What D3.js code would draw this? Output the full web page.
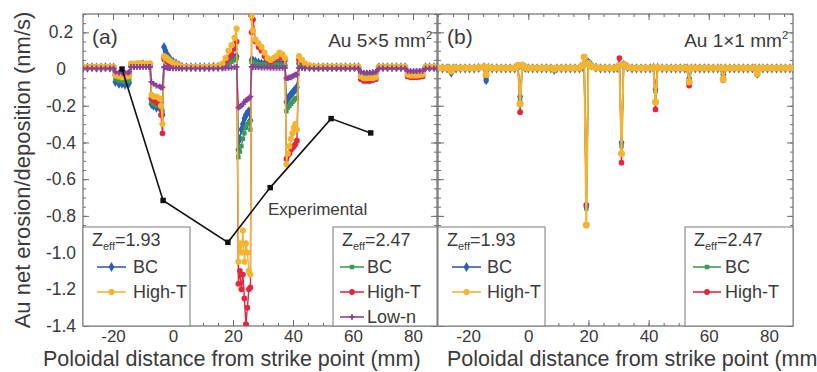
<!DOCTYPE html>
<html>
<head>
<meta charset="utf-8">
<script src="https://cdn.jsdelivr.net/npm/d3@7"></script>
<style>
  body { margin: 0; background: #fff; }
  text { font-family: "Liberation Sans", Arial, Helvetica, sans-serif; fill: #3a3a3a; }
</style>
</head>
<body>
<svg id="chart" width="817" height="372"></svg>
<script>
// ---------------- data ----------------
// Panel (a): Au 5x5 mm2, poloidal positions (mm)
const xGridA = [
  -30, -28.5, -27, -25.5, -24, -22.5, -21, -19.8,
  -19.2, -18, -17, -16, -15, -14.6,
  -14, -13, -12, -11, -10, -9, -8, -7.6,
  -7.2, -6.5, -5.5, -4.5, -4, -3.5,
  -3, -2.5, -2, -1.5, -1, 0, 1, 2,
  3, 4.5, 6, 7.5, 9, 10.5, 12, 13.5, 15, 16.5,
  17.5, 18.5, 19.5, 20.5, 21.2,
  21.8, 22.3, 22.8, 23.3, 23.8, 24.3, 24.8, 25.3, 25.8,
  26.2, 26.7, 27.5, 28.5, 29.5, 30.5, 31.5, 32.5, 33.5, 34.5, 35.5, 36.5, 37.3,
  37.8, 38.3, 38.8, 39.3, 39.8, 40.3, 40.8, 41.3,
  42, 43, 44, 45.5, 47, 48.5, 50, 51.5, 53, 54.5, 56, 57.5, 59, 60.5, 61.8,
  62.6, 63.6, 64.6, 65.6, 66.6, 67.6,
  68.6, 70, 71.5, 73, 74.5, 76, 77.4,
  78.2, 79.2, 80.2, 81.2, 82.2, 83.2,
  84.2, 85.5, 87, 88
];

// BC, Zeff = 1.93
const bc193A = [
  0.008, 0.008, 0.01, 0.008, 0.008, 0.01, 0.008, 0.008,
  -0.07, -0.08, -0.08, -0.085, -0.08, -0.075,
  0.02, 0.02, 0.022, 0.02, 0.025, 0.022, 0.02, 0.02,
  -0.19, -0.2, -0.21, -0.21, -0.22, -0.25,
  0.12, 0.1, 0.08, 0.065, 0.055, 0.04, 0.03, 0.02,
  0.012, 0.01, 0.01, 0.01, 0.01, 0.01, 0.01, 0.012, 0.012, 0.015,
  0.025, 0.035, 0.05, 0.06, 0.07,
  -0.44, -0.38, -0.33, -0.3, -0.27, -0.25, -0.24, -0.23, -0.28,
  0.05, 0.045, 0.04, 0.035, 0.03, 0.03, 0.028, 0.025, 0.025, 0.03, 0.03, 0.025, 0.02,
  -0.18, -0.16, -0.15, -0.14, -0.13, -0.12, -0.11, -0.1,
  0.03, 0.025, 0.015, 0.012, 0.01, 0.01, 0.01, 0.01, 0.01, 0.01, 0.01, 0.01, 0.01, 0.01, 0.01,
  -0.025, -0.03, -0.03, -0.03, -0.028, -0.025,
  0.01, 0.01, 0.01, 0.01, 0.01, 0.01, 0.01,
  -0.02, -0.02, -0.022, -0.02, -0.02, -0.018,
  0.01, 0.01, 0.01, 0.01
];

// High-T, Zeff = 1.93
const ht193A = [
  0.012, 0.012, 0.012, 0.014, 0.012, 0.012, 0.012, 0.012,
  -0.035, -0.04, -0.045, -0.04, -0.04, -0.035,
  0.03, 0.028, 0.03, 0.032, 0.03, 0.028, 0.03, 0.03,
  -0.14, -0.15, -0.15, -0.16, -0.2, -0.3,
  0.07, 0.065, 0.06, 0.05, 0.045, 0.035, 0.028, 0.02,
  0.014, 0.012, 0.012, 0.012, 0.012, 0.012, 0.014, 0.014, 0.016, 0.03,
  0.06, 0.1, 0.13, 0.17, 0.22,
  -1.05, -0.95, -1.0, -0.88, -1.05, -0.95, -1.0, -1.1, -1.12,
  0.29, 0.21, 0.16, 0.14, 0.12, 0.09, 0.06, 0.05, 0.06, 0.07, 0.09, 0.08, 0.06,
  -0.52, -0.46, -0.42, -0.38, -0.35, -0.32, -0.3, -0.33,
  0.07, 0.05, 0.03, 0.02, 0.015, 0.014, 0.014, 0.014, 0.014, 0.014, 0.014, 0.014, 0.014, 0.014, 0.014,
  -0.04, -0.05, -0.05, -0.048, -0.05, -0.045,
  0.014, 0.014, 0.014, 0.014, 0.014, 0.014, 0.014,
  -0.03, -0.035, -0.035, -0.035, -0.032, -0.03,
  0.014, 0.014, 0.014, 0.014
];

// BC, Zeff = 2.47
const bc247A = [
  0.006, 0.006, 0.006, 0.006, 0.006, 0.006, 0.006, 0.006,
  -0.055, -0.065, -0.065, -0.07, -0.065, -0.06,
  0.018, 0.018, 0.02, 0.018, 0.02, 0.02, 0.018, 0.018,
  -0.18, -0.19, -0.2, -0.2, -0.21, -0.23,
  0.05, 0.045, 0.04, 0.035, 0.03, 0.025, 0.02, 0.015,
  0.01, 0.01, 0.01, 0.01, 0.01, 0.01, 0.01, 0.01, 0.01, 0.012,
  0.02, 0.03, 0.04, 0.05, 0.06,
  -0.48, -0.45, -0.42, -0.38, -0.35, -0.32, -0.3, -0.29, -0.33,
  0.04, 0.035, 0.03, 0.028, 0.025, 0.025, 0.022, 0.02, 0.022, 0.025, 0.025, 0.022, 0.02,
  -0.23, -0.21, -0.2, -0.19, -0.18, -0.17, -0.16, -0.16,
  0.025, 0.02, 0.012, 0.01, 0.008, 0.008, 0.008, 0.008, 0.008, 0.008, 0.008, 0.008, 0.008, 0.008, 0.008,
  -0.03, -0.035, -0.035, -0.035, -0.032, -0.03,
  0.008, 0.008, 0.008, 0.008, 0.008, 0.008, 0.008,
  -0.022, -0.025, -0.025, -0.025, -0.022, -0.02,
  0.008, 0.008, 0.008, 0.008
];

// High-T, Zeff = 2.47
const ht247A = [
  0.01, 0.01, 0.01, 0.01, 0.01, 0.01, 0.01, 0.01,
  -0.03, -0.035, -0.04, -0.035, -0.035, -0.03,
  0.025, 0.025, 0.025, 0.028, 0.025, 0.025, 0.025, 0.025,
  -0.16, -0.17, -0.18, -0.19, -0.25, -0.35,
  0.06, 0.05, 0.045, 0.04, 0.032, 0.025, 0.02, 0.015,
  0.012, 0.012, 0.012, 0.012, 0.012, 0.012, 0.012, 0.012, 0.014, 0.02,
  0.04, 0.06, 0.08, 0.11, 0.15,
  -1.17, -1.1, -1.2, -1.12, -1.25, -1.39, -1.3, -1.2, -1.19,
  0.2, 0.27, 0.15, 0.12, 0.1, 0.07, 0.05, 0.04, 0.05, 0.06, 0.07, 0.06, 0.05,
  -0.49, -0.47, -0.46, -0.44, -0.43, -0.42, -0.41, -0.39,
  0.05, 0.04, 0.025, 0.015, 0.012, 0.01, 0.01, 0.01, 0.01, 0.01, 0.01, 0.01, 0.01, 0.01, 0.01,
  -0.055, -0.065, -0.065, -0.065, -0.06, -0.055,
  0.01, 0.01, 0.01, 0.01, 0.01, 0.01, 0.01,
  -0.04, -0.045, -0.045, -0.045, -0.042, -0.04,
  0.01, 0.01, 0.01, 0.01
];

// Low-n, Zeff = 2.47
const lown247A = [
  0.004, 0.004, 0.004, 0.004, 0.004, 0.004, 0.004, 0.004,
  -0.015, -0.02, -0.02, -0.02, -0.02, -0.015,
  0.012, 0.012, 0.012, 0.012, 0.012, 0.012, 0.012, 0.012,
  -0.07, -0.08, -0.09, -0.095, -0.1, -0.1,
  0.01, 0.01, 0.008, 0.006, 0.005, 0.004, 0.004, 0.004,
  0.004, 0.004, 0.004, 0.004, 0.004, 0.004, 0.004, 0.004, 0.004, 0.004,
  0.005, 0.006, 0.008, 0.01, 0.012,
  -0.21, -0.205, -0.2, -0.19, -0.18, -0.17, -0.165, -0.16, -0.15,
  0.012, 0.012, 0.01, 0.01, 0.008, 0.008, 0.008, 0.006, 0.006, 0.006, 0.006, 0.006, 0.006,
  -0.05, -0.05, -0.045, -0.045, -0.04, -0.035, -0.03, -0.03,
  0.006, 0.005, 0.004, 0.004, 0.004, 0.004, 0.004, 0.004, 0.004, 0.004, 0.004, 0.004, 0.004, 0.004, 0.004,
  -0.015, -0.02, -0.02, -0.02, -0.018, -0.015,
  0.004, 0.004, 0.004, 0.004, 0.004, 0.004, 0.004,
  -0.01, -0.012, -0.012, -0.012, -0.01, -0.01,
  0.004, 0.004, 0.004, 0.004
];

// Measured profile, panel (a)
const expX = [-17, -3.3, 18.3, 32.4, 52.7, 65.9];
const expY = [0, -0.716, -0.944, -0.646, -0.27, -0.348];

// Panel (b): Au 1x1 mm2
const xGridB = [
  -30, -28.5, -27, -26.3,
  -25.6,
  -24.9, -24, -22.5, -21, -19.5, -18, -16.5, -14.7,
  -14,
  -13.3, -12, -10.5, -9, -7.5, -6, -4.5, -3.4,
  -2.7,
  -2, -1, 0, 1.5, 3, 4.5, 6, 7.5,
  8.6,
  9.5, 11, 12.5, 14, 15.5, 17, 18, 18.6,
  19.3,
  20, 21, 22.5, 24, 25.5, 27, 28.5, 29.6, 30.3,
  31,
  31.7, 33, 34.5, 36, 37.5, 39, 40.5, 41.6,
  42.3,
  43, 44.5, 46, 47.5, 49, 50.5, 52, 52.8,
  53.5,
  54.2, 55.5, 57, 58.5, 60, 61.5, 63, 64.1,
  64.8,
  65.5, 67, 68.5, 70, 71.5, 73, 74.5, 75.4,
  76.1,
  76.8, 78, 79.5, 81, 82.5, 84, 85.5, 87, 88
];

const bc193B = [
  0.004, 0.004, 0.004, 0.004,
  -0.02,
  0.004, 0.004, 0.004, 0.004, 0.004, 0.004, 0.006, 0.01,
  -0.06,
  0.006, 0.004, 0.004, 0.004, 0.004, 0.004, 0.004, 0.012,
  -0.15,
  0.015, 0.006, 0.004, 0.004, 0.004, 0.004, 0.004, 0.004,
  -0.004,
  0.004, 0.004, 0.004, 0.004, 0.004, 0.004, 0.012, 0.03,
  -0.75,
  0.035, 0.02, 0.008, 0.004, 0.004, 0.004, 0.004, 0.006, 0.02,
  -0.4,
  0.02, 0.01, 0.004, 0.004, 0.004, 0.004, 0.004, 0.006,
  -0.11,
  0.006, 0.004, 0.004, 0.004, 0.004, 0.004, 0.004, 0.004,
  -0.05,
  0.004, 0.004, 0.004, 0.004, 0.004, 0.004, 0.004, 0.004,
  -0.03,
  0.004, 0.004, 0.004, 0.004, 0.004, 0.004, 0.004, 0.004,
  -0.025,
  0.004, 0.004, 0.004, 0.004, 0.004, 0.004, 0.004, 0.004, 0.004
];

const ht193B = [
  0.006, 0.006, 0.006, 0.006,
  -0.012,
  0.006, 0.006, 0.006, 0.006, 0.006, 0.006, 0.008, 0.012,
  -0.03,
  0.008, 0.006, 0.006, 0.006, 0.006, 0.006, 0.006, 0.02,
  -0.19,
  0.02, 0.008, 0.006, 0.006, 0.006, 0.006, 0.006, 0.006,
  0.0,
  0.006, 0.006, 0.006, 0.006, 0.006, 0.006, 0.02, 0.065,
  -0.85,
  0.03, 0.015, 0.008, 0.006, 0.006, 0.006, 0.006, 0.008, 0.02,
  -0.46,
  0.025, 0.012, 0.006, 0.006, 0.006, 0.006, 0.006, 0.008,
  -0.18,
  0.008, 0.006, 0.006, 0.006, 0.006, 0.006, 0.006, 0.006,
  -0.07,
  0.006, 0.006, 0.006, 0.006, 0.006, 0.006, 0.006, 0.006,
  -0.055,
  0.006, 0.006, 0.006, 0.006, 0.006, 0.006, 0.006, 0.006,
  -0.025,
  0.006, 0.006, 0.006, 0.006, 0.006, 0.006, 0.006, 0.006, 0.006
];

const bc247B = [
  0.004, 0.004, 0.004, 0.004,
  -0.02,
  0.004, 0.004, 0.004, 0.004, 0.004, 0.004, 0.006, 0.008,
  -0.065,
  0.006, 0.004, 0.004, 0.004, 0.004, 0.004, 0.004, 0.01,
  -0.17,
  0.012, 0.005, 0.004, 0.004, 0.004, 0.004, 0.004, 0.004,
  -0.004,
  0.004, 0.004, 0.004, 0.004, 0.004, 0.004, 0.01, 0.025,
  -0.76,
  0.04, 0.02, 0.008, 0.004, 0.004, 0.004, 0.004, 0.006, 0.02,
  -0.42,
  0.02, 0.01, 0.004, 0.004, 0.004, 0.004, 0.004, 0.006,
  -0.12,
  0.006, 0.004, 0.004, 0.004, 0.004, 0.004, 0.004, 0.004,
  -0.06,
  0.004, 0.004, 0.004, 0.004, 0.004, 0.004, 0.004, 0.004,
  -0.035,
  0.004, 0.004, 0.004, 0.004, 0.004, 0.004, 0.004, 0.004,
  -0.03,
  0.004, 0.004, 0.004, 0.004, 0.004, 0.004, 0.004, 0.004, 0.004
];

const ht247B = [
  0.005, 0.005, 0.005, 0.005,
  -0.01,
  0.005, 0.005, 0.005, 0.005, 0.005, 0.005, 0.006, 0.01,
  -0.04,
  0.006, 0.005, 0.005, 0.005, 0.005, 0.005, 0.005, 0.015,
  -0.235,
  0.015, 0.006, 0.005, 0.005, 0.005, 0.005, 0.005, 0.005,
  -0.002,
  0.005, 0.005, 0.005, 0.005, 0.005, 0.005, 0.01, 0.03,
  -0.74,
  0.03, 0.015, 0.006, 0.005, 0.005, 0.005, 0.005, 0.01, 0.06,
  -0.51,
  0.03, 0.012, 0.005, 0.005, 0.005, 0.005, 0.005, 0.008,
  -0.22,
  0.008, 0.005, 0.005, 0.005, 0.005, 0.005, 0.005, 0.005,
  -0.09,
  0.005, 0.005, 0.005, 0.005, 0.005, 0.005, 0.005, 0.005,
  -0.06,
  0.005, 0.005, 0.005, 0.005, 0.005, 0.005, 0.005, 0.005,
  -0.03,
  0.005, 0.005, 0.005, 0.005, 0.005, 0.005, 0.005, 0.005, 0.005
];

// Axis ticks and labels
const xTickValues = [-20, 0, 20, 40, 60, 80];
const xTickLabels = ["-20", "0", "20", "40", "60", "80"];
const yTickValues = [0.2, 0, -0.2, -0.4, -0.6, -0.8, -1.0, -1.2, -1.4];
const yTickLabels = ["0.2", "0", "-0.2", "-0.4", "-0.6", "-0.8", "-1.0", "-1.2", "-1.4"];

// ---------------- layout ----------------
const svg = d3.select("#chart");
const yTop = 14, yBot = 326;
const y = d3.scaleLinear().domain([-1.4, 0.3]).range([yBot, yTop]);

const colors = {
  bc193: "#2f5fb0",
  ht193: "#f2b530",
  bc247: "#3a9a5c",
  ht247: "#e3273e",
  lown: "#8c3f9b",
  exp: "#111111"
};

const sym = (type, size) => d3.symbol().type(type).size(size)();
const symbols = {
  bc193: sym(d3.symbolDiamond, 30),
  ht193: sym(d3.symbolCircle, 30),
  bc247: sym(d3.symbolSquare, 20),
  ht247: sym(d3.symbolCircle, 26),
  lown: sym(d3.symbolCross, 18),
  exp: sym(d3.symbolSquare, 30)
};
// the 1x1 mm2 High-T curve is sampled densely, so its markers merge into a band
const bandSymbol = sym(d3.symbolCircle, 40);

const panels = [
  { id: "a", x: d3.scaleLinear().domain([-30, 88]).range([83, 437]),
    series: [
      { key: "bc193", ys: bc193A },
      { key: "bc247", ys: bc247A },
      { key: "ht247", ys: ht247A },
      { key: "ht193", ys: ht193A },
      { key: "lown", ys: lown247A }
    ], grid: xGridA, tag: "(a)", title: "Au 5×5 mm", yLabels: true, titleX: 43 },
  { id: "b", x: d3.scaleLinear().domain([-30, 88]).range([438, 793]),
    series: [
      { key: "bc247", ys: bc247B },
      { key: "ht247", ys: ht247B },
      { key: "bc193", ys: bc193B },
      { key: "ht193", ys: ht193B, band: true }
    ], grid: xGridB, tag: "(b)", title: "Au 1×1 mm", yLabels: false, titleX: 447 }
];

const minorX = d3.range(-30, 90, 5);
const minorY = d3.range(-1.4, 0.3001, 0.05);
const frameColor = "#6d6d6d";

panels.forEach(p => {
  const x = p.x;
  const [x0, x1] = x.range();
  const g = svg.append("g");

  // clip region for the curves
  const clipId = "clip-" + p.id;
  svg.append("clipPath").attr("id", clipId)
    .append("rect").attr("x", x0).attr("y", yTop).attr("width", x1 - x0).attr("height", yBot - yTop);

  // ticks on all four sides, pointing inward
  const addAxis = (axis, transform, withText) => {
    const a = g.append("g").attr("transform", transform).call(axis);
    a.select(".domain").remove();
    a.selectAll("line").attr("stroke", frameColor).attr("stroke-width", 1);
    if (!withText) a.selectAll("text").remove();
    return a;
  };

  // minor ticks
  addAxis(d3.axisBottom(x).tickValues(minorX).tickSizeInner(-3).tickSizeOuter(0).tickFormat(""), `translate(0,${yBot})`, false);
  addAxis(d3.axisTop(x).tickValues(minorX).tickSizeInner(-3).tickSizeOuter(0).tickFormat(""), `translate(0,${yTop})`, false);
  addAxis(d3.axisLeft(y).tickValues(minorY).tickSizeInner(-3).tickSizeOuter(0).tickFormat(""), `translate(${x0},0)`, false);
  addAxis(d3.axisRight(y).tickValues(minorY).tickSizeInner(-3).tickSizeOuter(0).tickFormat(""), `translate(${x1},0)`, false);

  // major ticks
  const bx = addAxis(d3.axisBottom(x).tickValues(xTickValues).tickSizeInner(-6).tickSizeOuter(0)
      .tickPadding(0).tickFormat((d, i) => xTickLabels[i]), `translate(0,${yBot})`, true);
  bx.selectAll("text").attr("font-size", 17).attr("fill", "#444")
    .attr("y", 16).attr("dy", null)
    .style("font-family", '"Liberation Sans", Arial, sans-serif');
  addAxis(d3.axisTop(x).tickValues(xTickValues).tickSizeInner(-6).tickSizeOuter(0).tickFormat(""), `translate(0,${yTop})`, false);
  const ly = addAxis(d3.axisLeft(y).tickValues(yTickValues).tickSizeInner(-6).tickSizeOuter(0)
      .tickFormat((d, i) => yTickLabels[i]), `translate(${x0},0)`, p.yLabels);
  if (p.yLabels) {
    ly.selectAll("text").attr("font-size", 17.5).attr("fill", "#444")
      .attr("text-anchor", "middle").attr("x", 61 - x0)
      .style("font-family", '"Liberation Sans", Arial, sans-serif');
  }
  addAxis(d3.axisRight(y).tickValues(yTickValues).tickSizeInner(-6).tickSizeOuter(0).tickFormat(""), `translate(${x1},0)`, false);

  // frame
  g.append("rect").attr("x", x0).attr("y", yTop).attr("width", x1 - x0).attr("height", yBot - yTop)
    .attr("fill", "none").attr("stroke", frameColor).attr("stroke-width", 1.2);

  // simulated profiles
  const plot = svg.append("g").attr("clip-path", `url(#${clipId})`);
  const line = d3.line().x(d => x(d[0])).y(d => y(d[1]));
  p.series.forEach(s => {
    const pts = p.grid.map((gx, i) => [gx, s.ys[i]]);
    plot.append("path").datum(pts).attr("d", line)
      .attr("fill", "none").attr("stroke", colors[s.key]).attr("stroke-width", s.band ? 2 : 1.4)
      .attr("stroke-linejoin", "round");
    plot.append("g").selectAll("path").data(pts).join("path")
      .attr("d", s.band ? bandSymbol : symbols[s.key])
      .attr("transform", d => `translate(${x(d[0])},${y(d[1])})`)
      .attr("fill", colors[s.key]);
  });

  // panel tag and sample title
  svg.append("text").attr("x", x0 + 9).attr("y", 44).attr("font-size", 21).text(p.tag);
  const t = svg.append("text").attr("x", x1 - 5).attr("y", 47).attr("font-size", 19)
    .attr("text-anchor", "end");
  t.append("tspan").text(p.title);
  t.append("tspan").attr("font-size", 11).attr("dy", -8).text("2");

  // x-axis title
  svg.append("text").attr("x", p.titleX).attr("y", 366).attr("font-size", 21.5)
    .attr("fill", "#444").text("Poloidal distance from strike point (mm)");
});

// measured profile in panel (a)
{
  const x = panels[0].x;
  const pts = expX.map((v, i) => [v, expY[i]]);
  svg.append("path").datum(pts)
    .attr("d", d3.line().x(d => x(d[0])).y(d => y(d[1])))
    .attr("fill", "none").attr("stroke", colors.exp).attr("stroke-width", 1.6);
  svg.append("g").selectAll("path").data(pts).join("path")
    .attr("d", symbols.exp)
    .attr("transform", d => `translate(${x(d[0])},${y(d[1])})`)
    .attr("fill", colors.exp);
  svg.append("text").attr("x", 268).attr("y", 215).attr("font-size", 17).text("Experimental");
}

// y-axis title
svg.append("text")
  .attr("transform", "translate(30,170) rotate(-90)")
  .attr("text-anchor", "middle").attr("font-size", 22).attr("fill", "#444")
  .text("Au net erosion/deposition (nm/s)");

// ---------------- legends ----------------
function legend(bx, bw, zeff, items, lineX0, lineX1, textX) {
  const g = svg.append("g");
  g.append("rect").attr("x", bx).attr("y", 227).attr("width", bw).attr("height", yBot - 227)
    .attr("fill", "#fff").attr("stroke", "#7a7a7a").attr("stroke-width", 1);
  const z = g.append("text").attr("x", bx + 9).attr("y", 246).attr("font-size", 18);
  z.append("tspan").text("Z");
  z.append("tspan").attr("font-size", 11).attr("dy", 4).text("eff");
  z.append("tspan").attr("dy", -4).text("=" + zeff);
  items.forEach((it, i) => {
    const yy = 267 + i * 25;
    g.append("line").attr("x1", lineX0).attr("x2", lineX1).attr("y1", yy).attr("y2", yy)
      .attr("stroke", colors[it.key]).attr("stroke-width", 1.6);
    g.append("path").attr("d", symbols[it.key])
      .attr("transform", `translate(${(lineX0 + lineX1) / 2},${yy})`)
      .attr("fill", colors[it.key]);
    g.append("text").attr("x", textX).attr("y", yy + 6).attr("font-size", 18).text(it.label);
  });
}

const legendLow = [{ key: "bc193", label: "BC" }, { key: "ht193", label: "High-T" }];
const legendHighA = [{ key: "bc247", label: "BC" }, { key: "ht247", label: "High-T" }, { key: "lown", label: "Low-n" }];
const legendHighB = [{ key: "bc247", label: "BC" }, { key: "ht247", label: "High-T" }];

legend(83, 107, "1.93", legendLow, 97, 126, 133);
legend(333, 104, "2.47", legendHighA, 340, 364, 367);
legend(438, 107, "1.93", legendLow, 452, 481, 487);
legend(685, 108, "2.47", legendHighB, 693, 721, 725);
</script>
</body>
</html>
